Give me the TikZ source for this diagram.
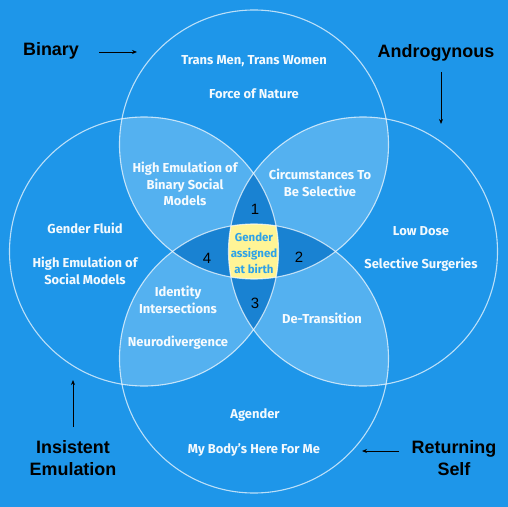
\documentclass[tikz,border=0pt]{standalone}
\usepackage{fontspec}
\setmainfont{Fira Sans}
\newfontfamily\arialfont{Liberation Sans}
\usetikzlibrary{arrows.meta}
\definecolor{bg}{RGB}{30,150,233}
\definecolor{lite}{RGB}{84,177,240}
\definecolor{darkb}{RGB}{25,130,210}
\definecolor{yel}{RGB}{255,244,150}
\definecolor{ctext}{RGB}{45,162,232}
\tikzset{
  cT/.style={insert path={(254,144.5) circle[radius=134.5bp]}},
  cL/.style={insert path={(144,251.5) circle[radius=134.5bp]}},
  cR/.style={insert path={(363,251.5) circle[radius=134.5bp]}},
  cB/.style={insert path={(254,358.5) circle[radius=134.5bp]}},
  ring/.style={draw=white, draw opacity=0.7, line width=1.1bp},
  wtext/.style={text=white, text opacity=0.95, align=center, font=\bfseries\fontsize{13}{16.5}\selectfont},
  num/.style={text=black, font=\arialfont\fontsize{15}{15}\selectfont},
  outlabel/.style={text=black, align=center, font=\arialfont\bfseries\fontsize{18}{22}\selectfont},
  pointer/.style={draw=black, line width=0.9bp, -{Stealth[length=5bp,width=4bp]}}
}
\begin{document}
\begin{tikzpicture}[x=1bp,y=-1bp]
\fill[bg] (0,0) rectangle (508,507);
\useasboundingbox (0,0) rectangle (508,507);
% pairwise overlaps
\begin{scope}\clip[cT]; \fill[lite][cL]; \fill[lite][cR]; \fill[lite][cB]; \end{scope}
\begin{scope}\clip[cB]; \fill[lite][cL]; \fill[lite][cR]; \end{scope}
\begin{scope}\clip[cL]; \fill[lite][cR]; \end{scope}
% triple overlaps
\begin{scope}\clip[cT]; \clip[cL]; \fill[darkb][cR]; \fill[darkb][cB]; \end{scope}
\begin{scope}\clip[cB]; \clip[cR]; \fill[darkb][cL]; \fill[darkb][cT]; \end{scope}
% all four
\begin{scope}\clip[cT]; \clip[cL]; \clip[cR]; \fill[yel][cB]; \end{scope}
% outlines
\path[ring][cT]; \path[ring][cL]; \path[ring][cR]; \path[ring][cB];

% texts
\node[wtext] (tm) at (254,61) {Trans Men, Trans Women};
\node[wtext] (fn) at (254,94) {Force of Nature};
\node[wtext] (gf) at (85,228) {Gender Fluid};
\node[wtext] (he) at (85,271) {High Emulation of\\Social Models};
\node[wtext] (ld) at (421,231) {Low Dose};
\node[wtext] (ss) at (421,265) {Selective Surgeries};
\node[wtext] (ag) at (255,415) {Agender};
\node[wtext] (mb) at (254,450) {My Body's Here For Me};
\node[wtext] (hb) at (185,184) {High Emulation of\\Binary Social\\Models};
\node[wtext] (cs) at (320,183) {Circumstances To\\Be Selective};
\node[wtext] (ii) at (178,300) {Identity\\Intersections};
\node[wtext] (nd) at (178,343) {Neurodivergence};
\node[wtext] (dt) at (322,318) {De-Transition};
\node[align=center, text=ctext, font=\bfseries\fontsize{11.5}{16}\selectfont] (ga) at (254,253) {Gender\\assigned\\at birth};
\node[num] (n1) at (255,209) {1};
\node[num] (n2) at (299,257) {2};
\node[num] (n3) at (255,303) {3};
\node[num] (n4) at (207,258) {4};

% outside labels and pointers
\node[outlabel] (bin) at (51,51) {Binary};
\coordinate (binS) at (99,52);
\coordinate (binE) at (137,52);
\draw[pointer] (binS) -- (binE);
\node[outlabel] (and) at (436,53) {Androgynous};
\coordinate (andS) at (441,72);
\coordinate (andE) at (441,124);
\draw[pointer] (andS) -- (andE);
\node[outlabel] (ins) at (73,458) {Insistent\\Emulation};
\coordinate (insS) at (73,427);
\coordinate (insE) at (73,380);
\draw[pointer] (insS) -- (insE);
\node[outlabel] (ret) at (454,458) {Returning\\Self};
\coordinate (retS) at (399,451);
\coordinate (retE) at (362,451);
\draw[pointer] (retS) -- (retE);
\end{tikzpicture}
\end{document}
